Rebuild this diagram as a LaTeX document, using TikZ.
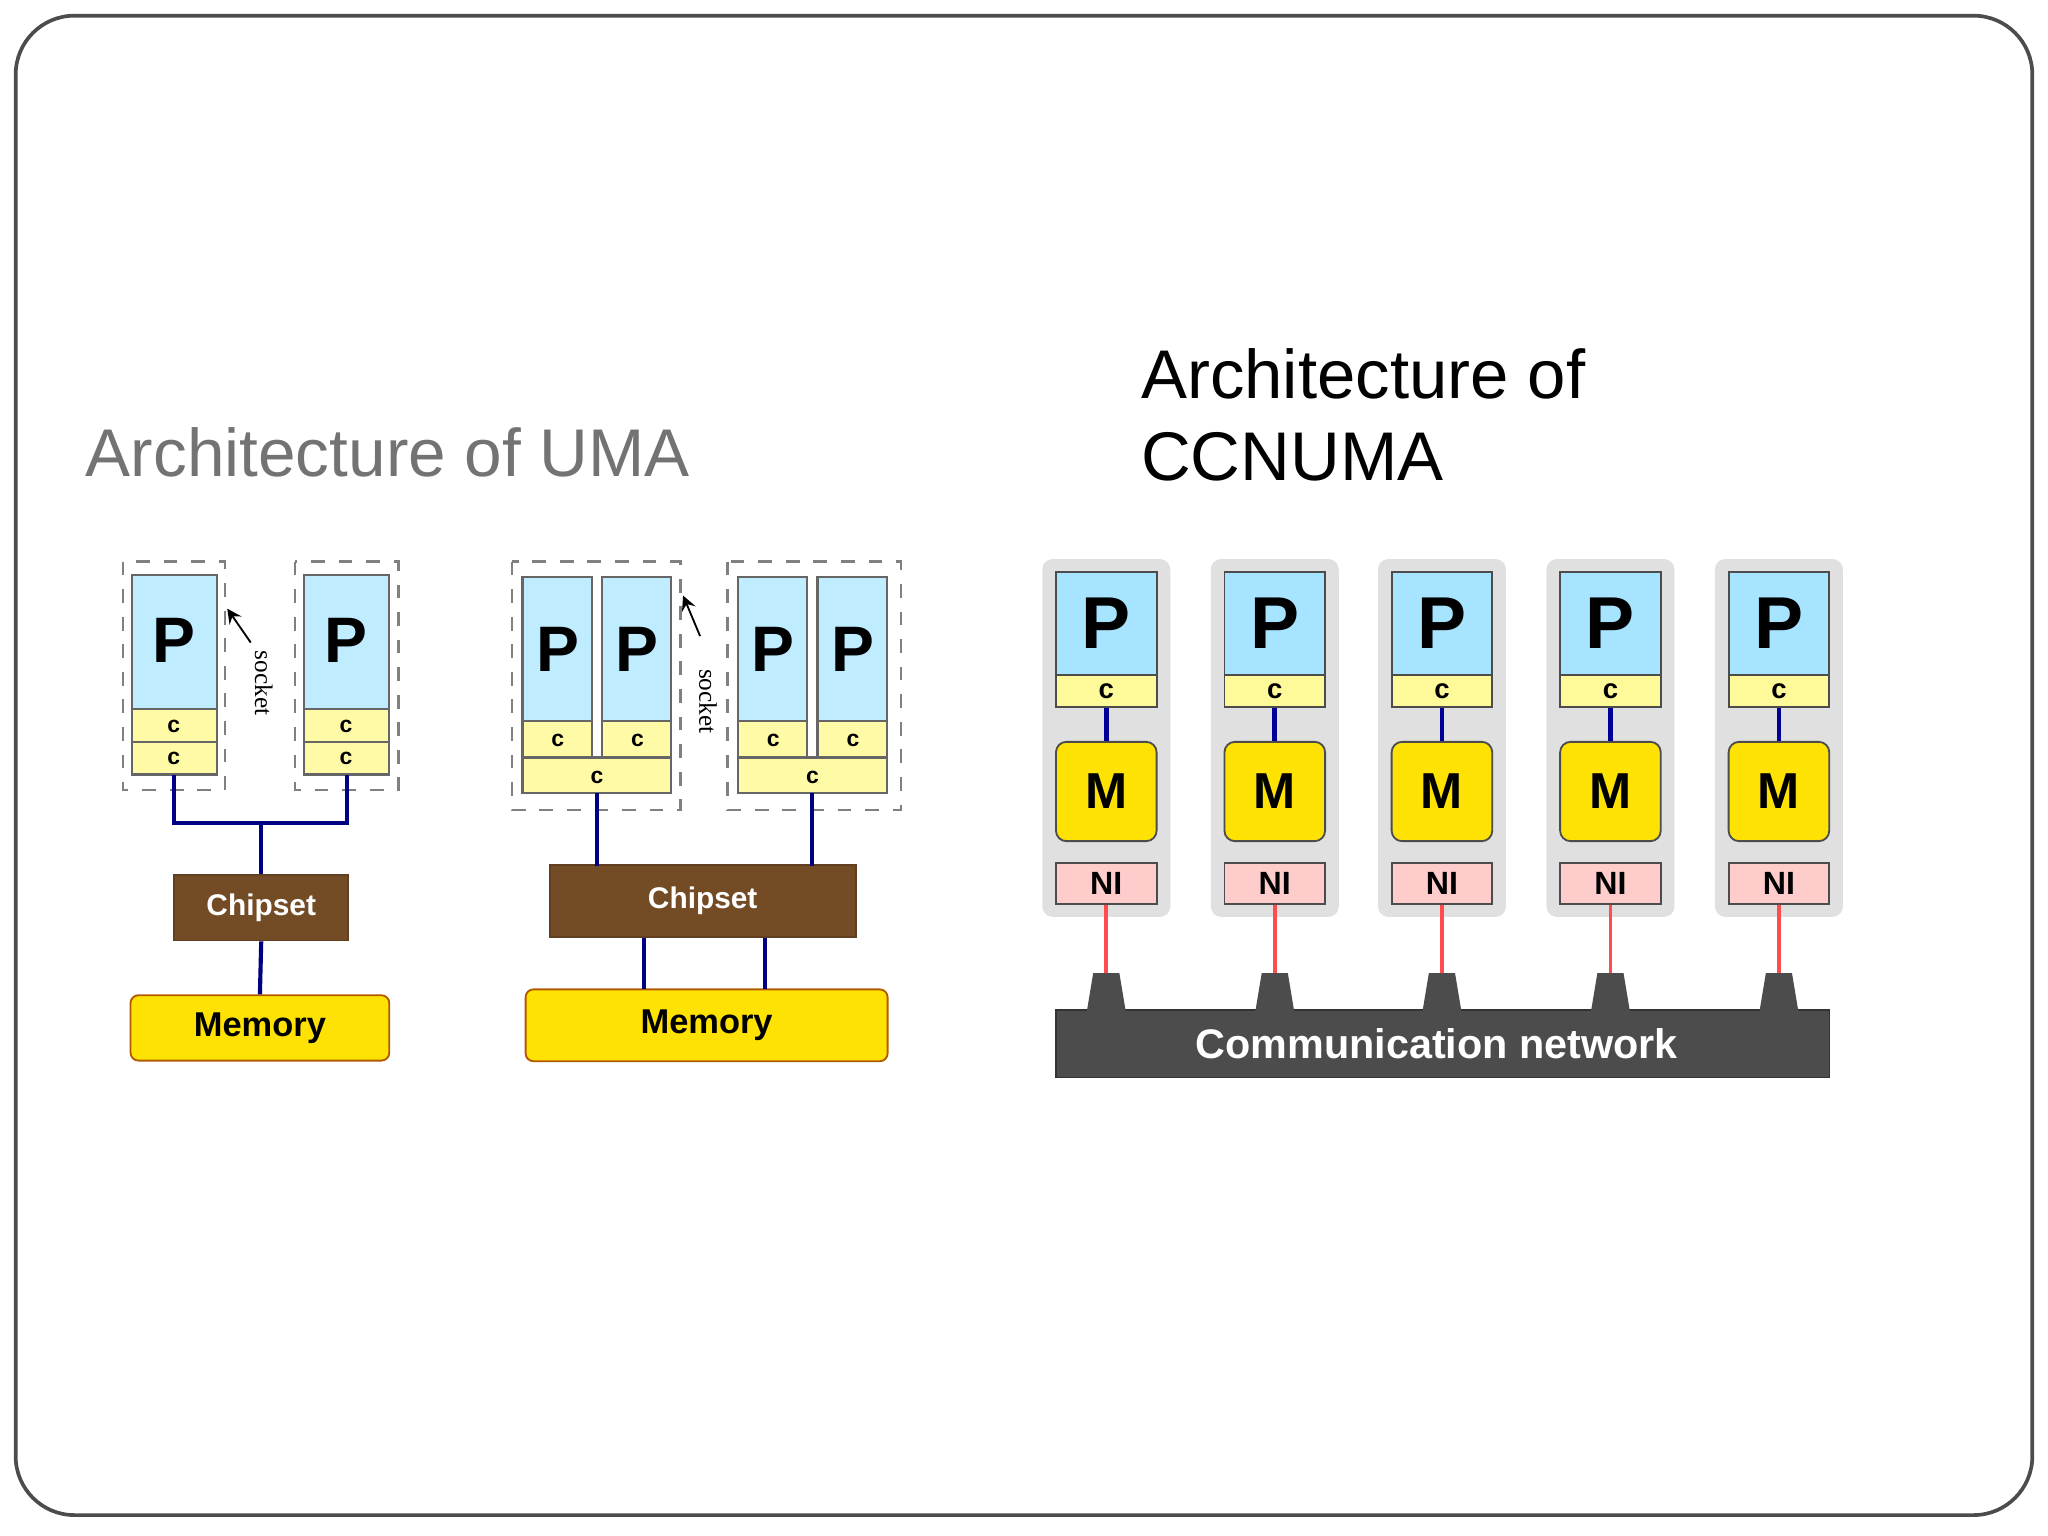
\documentclass[tikz,border=0pt]{standalone}
\usepackage{fontspec}
\setmainfont{Liberation Sans}
\newfontfamily\serifsock{Liberation Serif}
\begin{document}
\begin{tikzpicture}[x=0.01cm,y=-0.01cm,
  pbox/.style={draw=black!60,fill=blue!30!cyan!25,line width=0.5pt},
  cbox/.style={draw=black!60,fill=yellow!35,line width=0.5pt},
  sock/.style={draw=black!50,dashed,line width=0.5pt},
  bl/.style={draw=blue!50!black,line width=0.9pt},
  chip/.style={fill=brown!60!black,draw=brown!50!black},
  mem/.style={draw=orange!70!black,fill=yellow!85!orange,rounded corners=0.06cm},
  pt/.style={font=\bfseries\fontsize{14}{16}\selectfont},
  ct/.style={font=\bfseries\fontsize{5}{6}\selectfont},
  wt/.style={text=white,font=\bfseries\fontsize{6.5}{8}\selectfont},
  mt/.style={font=\bfseries\fontsize{7.5}{9}\selectfont}]
\useasboundingbox (0,0) rectangle (1568,1176);
\draw[black!70,line width=0.8pt,rounded corners=0.45cm] (12,12) rectangle (1556,1160);
\node[anchor=base west,inner sep=0,text=black!55,font=\fontsize{14.7}{18}\selectfont] (t1) at (65,365) {Architecture of UMA};
\node[anchor=base west,inner sep=0,font=\fontsize{15}{18}\selectfont] (t2) at (873,305) {Architecture of};
\node[anchor=base west,inner sep=0,font=\fontsize{15}{18}\selectfont] (t3) at (873,368) {CCNUMA};

% UMA left
\draw[sock] (94,430) rectangle (172,605);
\draw[sock] (226,430) rectangle (305,605);
\foreach \x/\n in {101/a,233/b}{
  \draw[pbox] (\x,440) rectangle +(65,103);
  \node[pt] (p\n) at (\x+32,490) {P};
  \draw[cbox] (\x,543) rectangle +(65,25);
  \draw[cbox] (\x,568) rectangle +(65,25);
  \node[ct] (c1\n) at (\x+32,556) {c};
  \node[ct] (c2\n) at (\x+32,581) {c};
}
\node[rotate=-90,font=\serifsock\fontsize{5.5}{6}\selectfont] (s1) at (202,523) {socket};
\draw[-stealth] (192,492) -- (174,466);
\node[chip,minimum width=1.33cm,minimum height=0.5cm,inner sep=0] (ch1) at (200,695) {};
\node[wt] at (ch1) {Chipset};
\node[mem,minimum width=1.98cm,minimum height=0.5cm,inner sep=0] (m1) at (199,787) {};
\node[mt] at (m1) {Memory};
\coordinate (j1) at (200,630);
\draw[bl] (133,593) |- (266,630) -- (266,593);
\draw[bl] (j1) -- (ch1.north);
\draw[bl] (ch1.south) -- (m1.north);

% UMA right
\draw[sock] (392,430) rectangle (521,620);
\draw[sock] (557,430) rectangle (690,620);
\foreach \x/\n in {400/a,565/b}{
  \draw[pbox] (\x,442) rectangle +(53,110);
  \draw[pbox] (\x+61,442) rectangle +(53,110);
  \node[pt] at (\x+27,497) {P};
  \node[pt] at (\x+88,497) {P};
  \draw[cbox] (\x,552) rectangle +(53,28);
  \draw[cbox] (\x+61,552) rectangle +(53,28);
  \node[ct] at (\x+27,567) {c};
  \node[ct] at (\x+88,567) {c};
  \draw[cbox] (\x,580) rectangle +(114,27);
  \node[ct] (bc\n) at (\x+57,595) {c};
}
\node[rotate=-90,font=\serifsock\fontsize{5.5}{6}\selectfont] (s2) at (542,537) {socket};
\draw[-stealth] (536,487) -- (523,456);
\node[chip,minimum width=2.34cm,minimum height=0.55cm,inner sep=0] (ch2) at (538,690) {};
\node[wt] at (ch2) {Chipset};
\node[mem,minimum width=2.77cm,minimum height=0.55cm,inner sep=0] (m2) at (541,785) {};
\node[mt] at (m2) {Memory};
\draw[bl] (457,607) -- (457,663);
\draw[bl] (622,607) -- (622,663);
\draw[bl] (493,718) -- (493,757);
\draw[bl] (586,718) -- (586,757);

% CCNUMA
\node[fill=black!70,draw=black!80,minimum width=5.92cm,minimum height=0.52cm,inner sep=0] (net) at (1104.5,799) {};
\foreach \cx [count=\i] in {847,976,1104,1233,1362}{
  \fill[black!12,rounded corners=0.08cm] (\cx-49,428) rectangle (\cx+49,702);
  \node[draw=black!70,fill=blue!30!cyan!35,minimum width=0.77cm,minimum height=0.79cm,inner sep=0] (P\i) at (\cx,477.5) {};
  \node[font=\bfseries\fontsize{16}{18}\selectfont] at (P\i) {P};
  \node[draw=black!70,fill=yellow!40,minimum width=0.77cm,minimum height=0.24cm,inner sep=0,font=\bfseries\fontsize{6}{7}\selectfont] (C\i) at (\cx,529) {c};
  \node[draw=black!70,fill=yellow!85!orange,rounded corners=0.08cm,minimum width=0.77cm,minimum height=0.76cm,inner sep=0,font=\bfseries\fontsize{11}{13}\selectfont] (M\i) at (\cx,606) {M};
  \node[draw=black!70,fill=red!20,minimum width=0.77cm,minimum height=0.31cm,inner sep=0,font=\bfseries\fontsize{7}{8}\selectfont] (N\i) at (\cx,676.5) {NI};
  \fill[black!70] (\cx-15,775) -- (\cx-10,745) -- (\cx+10,745) -- (\cx+15,775) -- cycle;
  \coordinate (b\i) at (\cx,745);
  \draw[blue!60!black,line width=1pt] (C\i.south) -- (M\i.north);
  \draw[red!70,line width=0.8pt] (N\i.south) -- (b\i);
}
\node[text=white,font=\bfseries\fontsize{9}{11}\selectfont] at (1100,799) {Communication network};
\end{tikzpicture}
\end{document}
